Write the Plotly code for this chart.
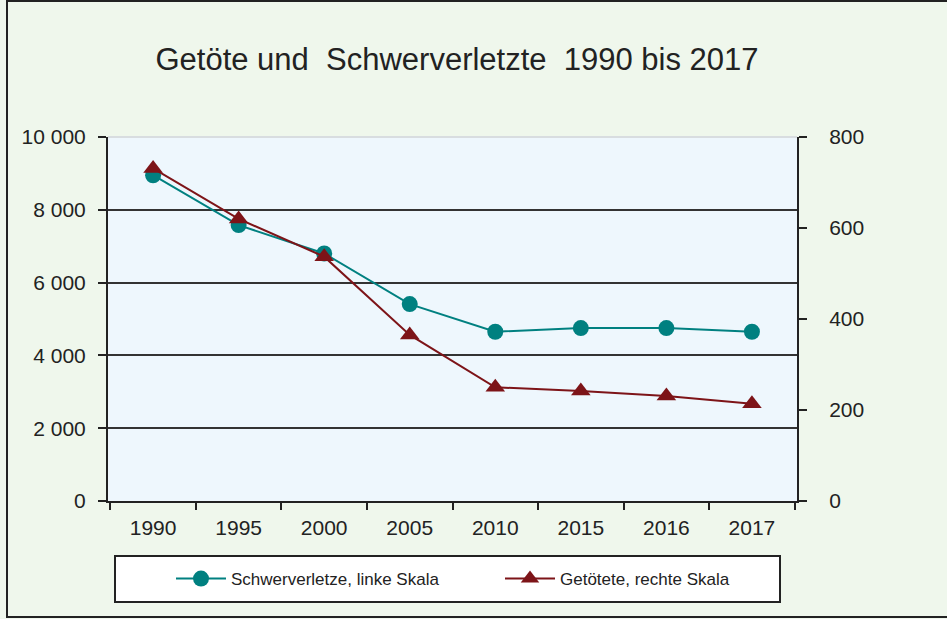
import plotly.graph_objects as go

years = ["1990", "1995", "2000", "2005", "2010", "2015", "2016", "2017"]
schwerverletzte = [8950, 7580, 6800, 5410, 4650, 4750, 4750, 4650]
getoetete = [731, 620, 537, 365, 250, 242, 231, 214]

name_sv = "Schwerverletze, linke Skala"
name_gt = "Getötete, rechte Skala"
title_text = "Getöte und\u00a0 Schwerverletzte\u00a0 1990 bis 2017"

TEAL = "#008080"
DARKRED = "#7d1418"
INK = "#222222"
FONT = "Liberation Sans, Arial, sans-serif"

W, H = 947, 619
L, R, T, B = 108, 150, 137, 118
pw = W - L - R
ph = H - T - B

def px_x(px):
    return (px - L) / pw

def px_y(py):
    return (H - B - py) / ph

fig = go.Figure()
fig.add_trace(go.Scatter(
    x=years, y=schwerverletzte, name=name_sv, mode="lines+markers",
    line=dict(color=TEAL, width=2),
    marker=dict(symbol="circle", size=16, color=TEAL),
    yaxis="y", legend="legend",
))
fig.add_trace(go.Scatter(
    x=years, y=getoetete, name=name_gt, mode="lines+markers",
    line=dict(color=DARKRED, width=2),
    marker=dict(symbol="triangle-up", size=17, color=DARKRED),
    yaxis="y2", legend="legend2",
))

legend_common = dict(orientation="h", xanchor="left", y=px_y(579), yanchor="middle",
                     bgcolor="rgba(0,0,0,0)", borderwidth=0,
                     font=dict(size=17, color=INK, family=FONT), itemwidth=50)

fig.update_layout(
    width=W, height=H,
    margin=dict(l=L, r=R, t=T, b=B, autoexpand=False),
    paper_bgcolor="#eff7ec",
    plot_bgcolor="#eef7fd",
    font=dict(family=FONT, color=INK, size=21),
    separators=", ",
    title=dict(text=title_text, x=457 / W, xref="container", xanchor="center",
               y=1 - 59 / H, yref="container", yanchor="middle",
               font=dict(size=31, color=INK, family=FONT)),
    xaxis=dict(type="category", showline=True, linecolor=INK, linewidth=2,
               ticks="outside", tickson="boundaries", ticklen=7, tickwidth=2,
               tickcolor=INK, showgrid=False, ticklabelstandoff=7,
               tickfont=dict(size=21)),
    yaxis=dict(range=[0, 10000], dtick=2000, tickformat=",d",
               showline=True, linecolor=INK, linewidth=2,
               ticks="outside", ticklen=8, tickwidth=2, tickcolor=INK,
               showgrid=True, gridcolor="#333333", gridwidth=2,
               zeroline=False, ticklabelstandoff=8, tickfont=dict(size=21)),
    yaxis2=dict(range=[0, 800], dtick=200, overlaying="y", side="right",
                showline=True, linecolor=INK, linewidth=2,
                ticks="outside", ticklen=8, tickwidth=2, tickcolor=INK,
                showgrid=False, zeroline=False, ticklabelstandoff=18,
                tickfont=dict(size=21)),
    showlegend=True,
    legend=dict(x=px_x(171), **legend_common),
    legend2=dict(x=px_x(500), **legend_common),
    shapes=[
        # outer frame
        dict(type="rect", xref="paper", yref="paper",
             x0=px_x(7), x1=px_x(960), y0=px_y(617), y1=px_y(1),
             line=dict(color=INK, width=2), fillcolor="rgba(0,0,0,0)", layer="above"),
        # light top border of plot area
        dict(type="line", xref="paper", yref="paper", x0=0, x1=1, y0=1, y1=1,
             line=dict(color="#d8dde0", width=2), layer="between"),
        # legend box
        dict(type="rect", xref="paper", yref="paper",
             x0=px_x(115), x1=px_x(780), y0=px_y(602), y1=px_y(556),
             line=dict(color=INK, width=2), fillcolor="#ffffff", layer="above"),
    ],
)

fig.write_html("out.html", config={"displayModeBar": False},
               post_script="document.body.style.margin='0';")
